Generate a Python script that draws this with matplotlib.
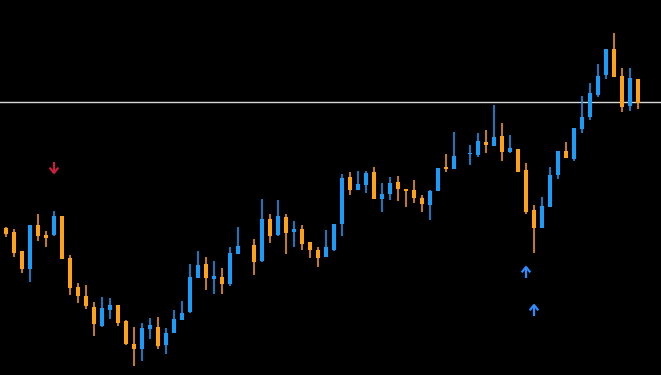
import numpy as np
import matplotlib
matplotlib.use("Agg")
import matplotlib.pyplot as plt

nan = np.nan
# candle index positions (gaps at 30 and 57)
idx = list(range(-1, 80))
opens = [147, 147, 143, 124, 106, 150, 140, 140, 159, 117, 88, 79, 68, 49, 65, 70, 54, 31, 26, 46, 48, 30, 42, 55, 63, 97,
         111, 96, 98, 91, 121, nan, 130, 114, 156, 140, 158, 143, 146, 133, 125, 118, 125, 151, 198, 185, 190, 203, 176, 181,
         193, 186, 185, 177, 170, 184, 208, 206, nan, 221, 220, 233, 229, 239, 223, 226, 205, 165, 147, 168, 200, 224, 216,
         246, 258, 280, 300, 326, 299, 269, 296]
highs = [149, 148, 146, 124, 150, 161, 144, 164, 159, 120, 92, 90, 73, 78, 77, 70, 55, 48, 52, 57, 58, 47, 65, 74, 111, 124,
         118, 114, 107, 128, 148, nan, 136, 176, 161, 175, 161, 154, 150, 133, 128, 145, 151, 201, 203, 204, 204, 208, 192, 198,
         199, 186, 195, 180, 185, 207, 221, 243, nan, 230, 242, 245, 270, 252, 240, 226, 212, 170, 178, 208, 224, 233, 247,
         279, 292, 311, 326, 342, 307, 307, 296]
lows = [146, 138, 118, 102, 93, 134, 128, 139, 116, 80, 72, 66, 39, 48, 56, 49, 30, 9, 14, 36, 26, 21, 42, 55, 62, 97,
        85, 81, 81, 89, 121, nan, 100, 113, 132, 139, 121, 128, 125, 117, 108, 118, 124, 139, 180, 185, 182, 176, 163, 175,
        174, 168, 172, 163, 155, 184, 203, 206, nan, 210, 218, 222, 229, 214, 222, 203, 161, 122, 147, 168, 196, 217, 214,
        242, 255, 278, 296, 298, 263, 264, 266]
closes = [149, 141, 122, 106, 150, 139, 137, 159, 116, 87, 79, 69, 51, 67, 70, 52, 31, 26, 47, 50, 29, 42, 56, 62, 98, 110,
          97, 99, 91, 122, 129, nan, 113, 156, 139, 159, 142, 146, 131, 125, 117, 128, 151, 197, 185, 191, 202, 176, 181, 192,
          186, 184, 177, 171, 184, 207, 206, 219, nan, 222, 234, 230, 238, 223, 227, 203, 163, 147, 169, 200, 224, 217, 247,
          258, 282, 299, 326, 298, 268, 297, 272]

level_line = 273
sell_idx = [6]
sell_level = [213]
buy_idx = [65, 66]
buy_level = [108, 70]

UP = "#1d9bf8"
DOWN = "#ffa217"
SELL = "#c8203c"
BUY = "#2f8cff"

fig = plt.figure(figsize=(6.61, 3.75), dpi=100, facecolor="black")
ax = fig.add_axes([0, 0, 1, 1])
ax.set_facecolor("black")

o = np.array(opens, float); h = np.array(highs, float)
l = np.array(lows, float); c = np.array(closes, float)
x = np.array(idx, float)
ok = ~np.isnan(o)
x, o, h, l, c = x[ok], o[ok], h[ok], l[ok], c[ok]
cols = [UP if cc > oo else DOWN for oo, cc in zip(o, c)]

ax.vlines(x, l, h, colors=cols, linewidth=1.1, zorder=2)
bottom = np.minimum(o, c)
height = np.maximum(np.abs(c - o), 1.5)
ax.bar(x, height, bottom=bottom, width=0.62, color=cols, linewidth=0, zorder=3)

ax.axhline(level_line, color="#d8d8d8", linewidth=1.0, zorder=1)

# signal arrows
def arrow(xc, tip, direction, color):
    # direction: -1 pointing down (tip below), +1 pointing up
    length = 11
    w = 0.45
    head = 4.5
    base = tip - direction * length
    ax.plot([xc, xc], [base, tip], color=color, linewidth=1.6, solid_capstyle="butt", zorder=4)
    ax.plot([xc - w, xc, xc + w], [tip - direction * head, tip, tip - direction * head],
            color=color, linewidth=1.6, zorder=4)

for xi, lv in zip(sell_idx, sell_level):
    arrow(xi, lv - 11, -1, SELL)
for xi, lv in zip(buy_idx, buy_level):
    arrow(xi, lv, +1, BUY)

ax.set_xlim(-0.75, 81.875)
ax.set_ylim(0, 375)
ax.axis("off")
fig.savefig("out.png", dpi=100, facecolor="black")
